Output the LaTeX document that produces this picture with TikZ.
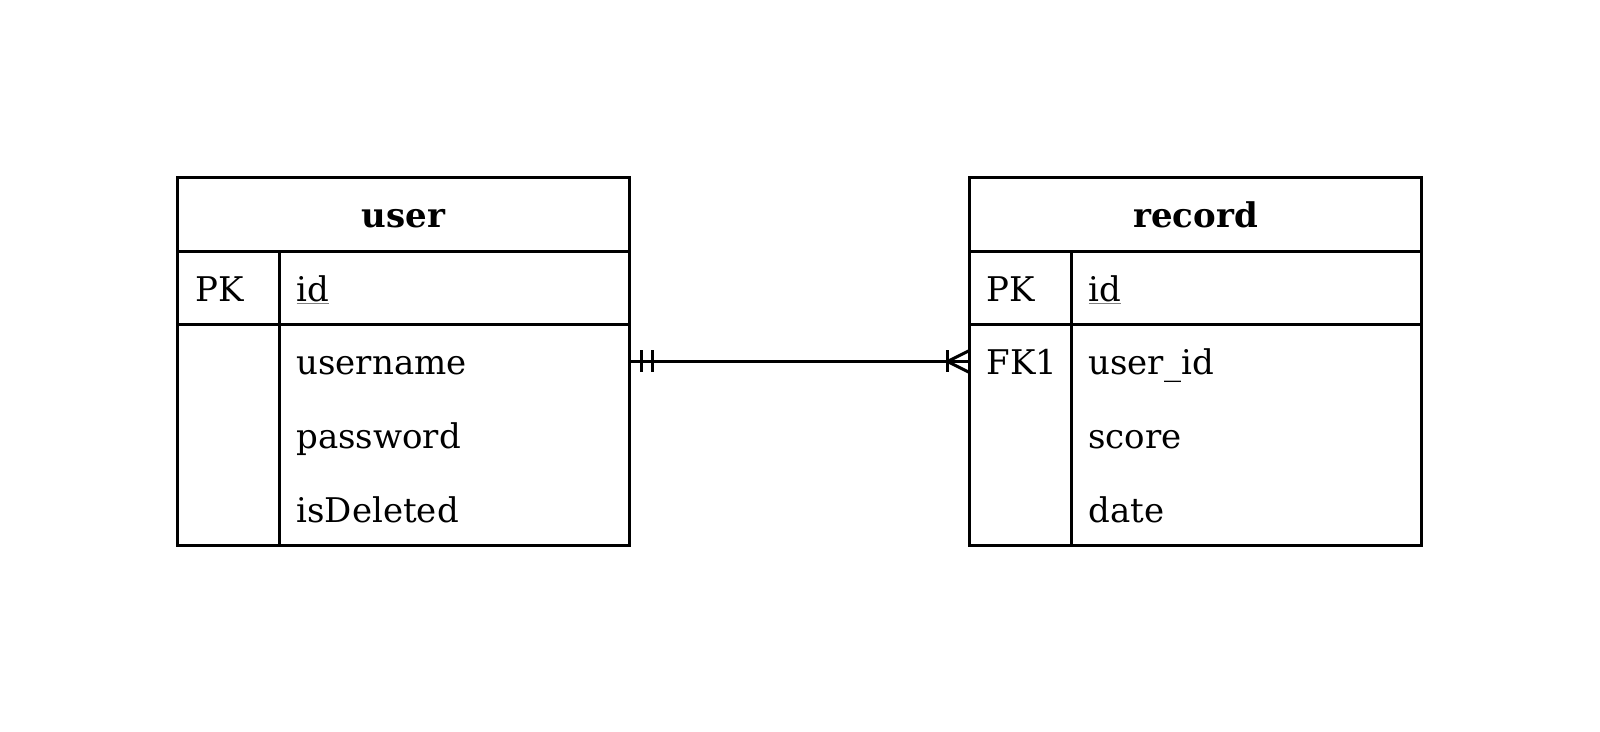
\documentclass[tikz,border=0pt]{standalone}
\usepackage{fontspec}
\setmainfont{DejaVu Serif}
\usetikzlibrary{calc}

\newcommand{\pkey}[1]{\setbox0\hbox{#1}\rlap{\color{gray}\rule[-1.3pt]{\wd0}{0.5pt}}\box0}

\begin{document}
\begin{tikzpicture}[x=0.5pt,y=-0.5pt,line width=1.5pt,
    table/.style={draw,anchor=north west,inner sep=0pt,outer sep=0pt,
      minimum width=226pt,minimum height=184pt},
    title/.style={anchor=base,inner sep=0pt,font=\fontsize{17}{20}\selectfont\bfseries},
    field/.style={anchor=base west,inner sep=0pt,font=\fontsize{17}{20}\selectfont}]
\useasboundingbox (0,0) rectangle (1600,732);

% user table
\node[table] (user) at (177.5,177.5) {};
\foreach \i in {0,...,4}
  \coordinate (user-row\i) at (403.5,214.5+73.5*\i);
\draw (177.5,251.5) -- (629.5,251.5);
\draw (177.5,324.5) -- (629.5,324.5);
\draw (279.5,251.5) -- (279.5,545.5);
\node[title] (user-title) at (403.5,228) {user};
\node[field] (user-pk) at (194,301.5) {PK};
\foreach \f [count=\i from 1] in {\pkey{id},username,password,isDeleted}
  \node[field] (user-f\i) at (295,228+73.5*\i) {\f};

% record table
\node[table] (record) at (969.5,177.5) {};
\foreach \i in {0,...,4}
  \coordinate (record-row\i) at (1195.5,214.5+73.5*\i);
\draw (969.5,251.5) -- (1421.5,251.5);
\draw (969.5,324.5) -- (1421.5,324.5);
\draw (1071.5,251.5) -- (1071.5,545.5);
\node[title] (record-title) at (1195.5,228) {record};
\node[field] (record-pk) at (985,301.5) {PK};
\node[field] (record-fk) at (985,375) {FK1};
\foreach \f [count=\i from 1] in {\pkey{id},user\_id,score,date}
  \node[field] (record-f\i) at (1087,228+73.5*\i) {\f};

% one user -- many records
\coordinate (uc) at (user.east |- user-row2);
\coordinate (rc) at (record.west |- record-row2);
\draw (uc) -- (rc);
\draw ($(uc)+(12,-11)$) -- ++(0,22);
\draw ($(uc)+(23,-11)$) -- ++(0,22);
\draw ($(rc)+(-22,-11)$) -- ++(0,22);
\draw ($(rc)+(0,-11)$) -- ($(rc)+(-22,0)$) -- ($(rc)+(0,11)$);
\end{tikzpicture}
\end{document}
